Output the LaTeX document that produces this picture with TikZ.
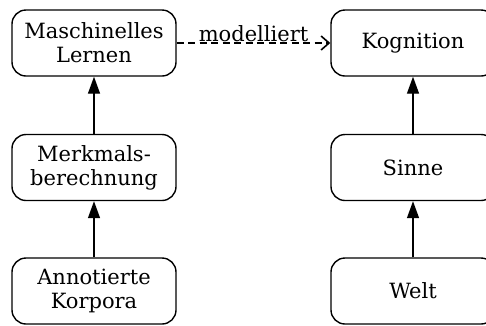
\documentclass[tikz,border=0pt]{standalone}
\usepackage{fontspec}
\setmainfont{DejaVu Serif}
\usetikzlibrary{arrows.meta}
\begin{document}
\begin{tikzpicture}[x=1pt,y=-1pt,
  box/.style={draw,line width=1.4pt,rounded corners=14pt,minimum width=164pt,
    minimum height=66pt,align=center,inner sep=0pt,font=\fontsize{21}{24}\selectfont},
  up/.style={line width=1.4pt,-{Triangle[length=17pt,width=12pt]}},
  model/.style={line width=1.4pt,dash pattern=on 7pt off 4.5pt,
    -{Straight Barb[length=8pt,width=14pt,line width=1.6pt]}}]
  \useasboundingbox (0,0) rectangle (486,325);
  % linke Spalte
  \node[box] (ml) at (94,43) {Maschinelles\\Lernen};
  \node[box] (merk) at (94,167.5) {Merkmals-\\berechnung};
  \node[box] (korp) at (94,291) {Annotierte\\Korpora};
  % rechte Spalte
  \node[box] (kog) at (413,43) {Kognition};
  \node[box] (sinne) at (413,167.5) {Sinne};
  \node[box] (welt) at (413,291) {Welt};
  % Pfeile
  \draw[up] (korp) -- (merk);
  \draw[up] (merk) -- (ml);
  \draw[up] (welt) -- (sinne);
  \draw[up] (sinne) -- (kog);
  \draw[model] (ml) -- node[above,inner sep=1pt,font=\fontsize{21}{24}\selectfont] (lbl) {modelliert} (kog);
\end{tikzpicture}
\end{document}
